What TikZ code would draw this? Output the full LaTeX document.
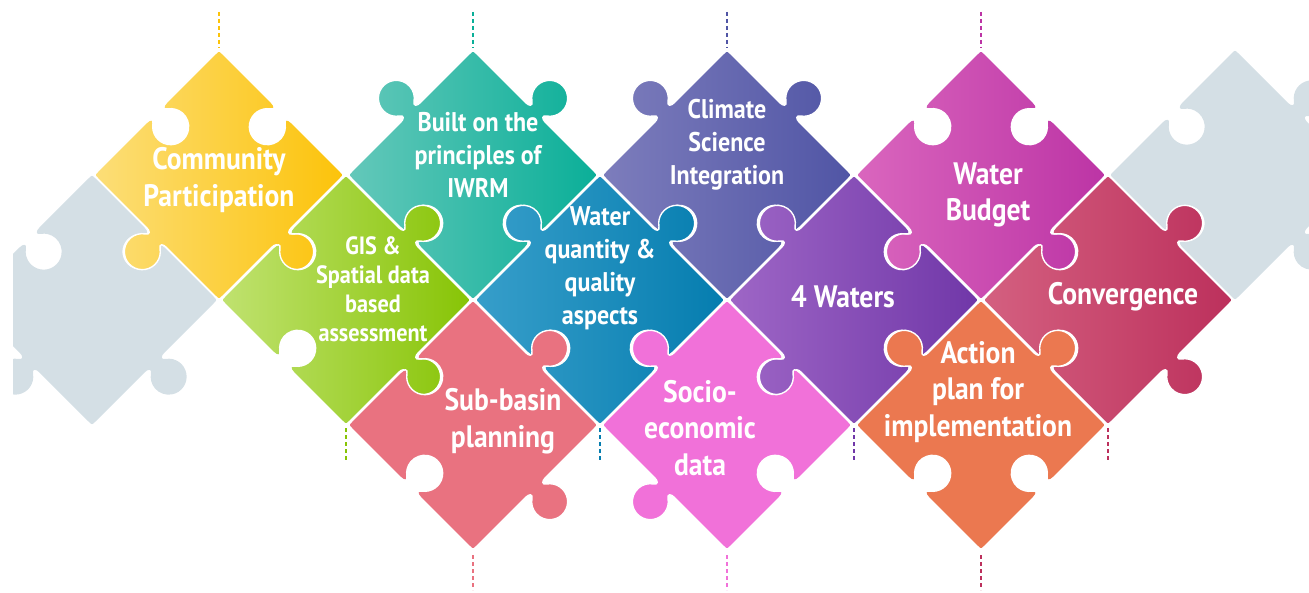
\documentclass[tikz,border=0pt]{standalone}
\usepackage{fontspec}
\setmainfont{PT Sans}[FakeStretch=0.89]
\usepackage{xcolor}
\usetikzlibrary{positioning}

\definecolor{cpL}{RGB}{252,222,120}
\definecolor{cpR}{RGB}{252,195,10}
\definecolor{biL}{RGB}{100,200,186}
\definecolor{biR}{RGB}{10,175,152}
\definecolor{clL}{RGB}{125,125,188}
\definecolor{clR}{RGB}{80,85,165}
\definecolor{wbL}{RGB}{218,102,190}
\definecolor{wbR}{RGB}{188,52,165}
\definecolor{gsL}{RGB}{192,226,112}
\definecolor{gsR}{RGB}{135,196,5}
\definecolor{wqL}{RGB}{55,158,202}
\definecolor{wqR}{RGB}{5,125,175}
\definecolor{fwL}{RGB}{158,102,198}
\definecolor{fwR}{RGB}{112,55,168}
\definecolor{cvL}{RGB}{212,96,128}
\definecolor{cvR}{RGB}{188,48,92}
\definecolor{sbC}{RGB}{233,114,128}
\definecolor{seC}{RGB}{241,113,217}
\definecolor{apC}{RGB}{235,120,80}
\definecolor{grC}{RGB}{212,223,229}

% half side of the square piece, corner cut
\def\pzA{88.39}
\def\pzC{5}

% one side of a piece, #1 rotation, #2 = 1 tab, -1 blank
\newcommand\pzside[2]{%
  {[rotate=#1] -- (-14,\pzA) .. controls (-9,\pzA) and (-6.2,{\pzA+2.4*(#2)}) .. (-10.3,{\pzA+5.3*(#2)})
   arc[start angle={180+55*(#2)}, end angle={180-235*(#2)}, radius=18]
   .. controls (6.2,{\pzA+2.4*(#2)}) and (9,\pzA) .. (14,\pzA)
   -- ({\pzA-\pzC},\pzA) .. controls (\pzA,\pzA) .. (\pzA,{\pzA-\pzC})}}

% piece: #1 centre, #2 NE, #3 SE, #4 SW, #5 NW, #6 colour options
\newcommand\pzpiece[6]{%
  \path[piece,#6,shift={(#1)}] {[rotate=-45] ({-\pzA+\pzC},\pzA)}
    \pzside{-45}{#2} \pzside{-135}{#3} \pzside{-225}{#4} \pzside{-315}{#5} -- cycle;}

\tikzset{
  piece/.style={draw=white, line width=1.4pt, line join=round},
  pztext/.style={text=white, align=center, font=\bfseries\fontsize{31}{36.5}\selectfont},
  pzmid/.style={pztext, font=\bfseries\fontsize{27}{33}\selectfont},
  pzsmall/.style={pztext, font=\bfseries\fontsize{25}{29}\selectfont},
  tag/.style={dash pattern=on 4pt off 3pt, line width=2pt},
}

\begin{document}
\begin{tikzpicture}[x=1pt,y=1pt]
\useasboundingbox (0,0) rectangle (1309,-593);

% centres of the pieces
\coordinate (gl) at (92,-300);
\coordinate (cp) at (219,-175);
\coordinate (bi) at (473,-175);
\coordinate (cl) at (727,-175);
\coordinate (wb) at (981,-175);
\coordinate (gr) at (1235,-175);
\coordinate (gs) at (346,-300);
\coordinate (wq) at (600,-300);
\coordinate (fw) at (854,-300);
\coordinate (cv) at (1108,-300);
\coordinate (sb) at (473,-425);
\coordinate (se) at (727,-425);
\coordinate (ap) at (981,-425);

% grey end pieces
\begin{scope}
  \clip (13,0) rectangle (1309,-593);
  \pzpiece{gl}{-1}{1}{1}{-1}{fill=grC,draw=none}
  \pzpiece{gr}{1}{1}{-1}{-1}{fill=grC,draw=none}
\end{scope}

\pzpiece{cp}{-1}{1}{1}{-1}{left color=cpL,right color=cpR}
\pzpiece{bi}{1}{-1}{-1}{1}{left color=biL,right color=biR}
\pzpiece{cl}{1}{-1}{-1}{1}{left color=clL,right color=clR}
\pzpiece{wb}{-1}{1}{1}{-1}{left color=wbL,right color=wbR}
\pzpiece{gs}{1}{1}{-1}{-1}{left color=gsL,right color=gsR}
\pzpiece{wq}{1}{-1}{-1}{1}{left color=wqL,right color=wqR}
\pzpiece{fw}{-1}{-1}{1}{1}{left color=fwL,right color=fwR}
\pzpiece{cv}{1}{1}{-1}{-1}{left color=cvL,right color=cvR}
\pzpiece{sb}{1}{1}{-1}{-1}{fill=sbC}
\pzpiece{se}{-1}{-1}{1}{1}{fill=seC}
\pzpiece{ap}{1}{-1}{-1}{1}{fill=apC}

% texts
\node[pztext] (cp-txt) at (219,-180) {Community\\Participation};
\node[pzmid] (bi-txt) at (478,-155) {Built on the\\principles of\\IWRM};
\node[pzmid] (cl-txt) at (727,-145) {Climate\\Science\\Integration};
\node[pztext] (wb-txt) at (988,-195) {Water\\Budget};
\node[pzsmall] (gs-txt) at (373,-289) {GIS \&\\Spatial data\\based\\assessment};
\node[pzmid] (wq-txt) at (600,-268) {Water\\quantity \&\\quality\\aspects};
\node[pztext] (fw-txt) at (843,-297) {4 Waters};
\node[pztext] (cv-txt) at (1123,-297) {Convergence};
\node[pztext] (sb-txt) at (503,-421) {Sub-basin\\planning};
\node[pztext] (se-txt) at (700,-428) {Socio-\\economic\\data};
\node[pztext] (ap-txt) at (978,-392) {Action\\plan for\\implementation};

% dotted tags at the tips
\coordinate (cp-a) at (219,-12);  \coordinate (cp-b) at (219,-48);
\coordinate (bi-a) at (473,-12);  \coordinate (bi-b) at (473,-48);
\coordinate (cl-a) at (727,-12);  \coordinate (cl-b) at (727,-48);
\coordinate (wb-a) at (981,-12);  \coordinate (wb-b) at (981,-48);
\coordinate (gs-a) at (346,-428); \coordinate (gs-b) at (346,-462);
\coordinate (wq-a) at (600,-428); \coordinate (wq-b) at (600,-462);
\coordinate (fw-a) at (854,-428); \coordinate (fw-b) at (854,-462);
\coordinate (cv-a) at (1108,-428);\coordinate (cv-b) at (1108,-462);
\coordinate (sb-a) at (473,-555); \coordinate (sb-b) at (473,-590);
\coordinate (se-a) at (727,-555); \coordinate (se-b) at (727,-590);
\coordinate (ap-a) at (981,-555); \coordinate (ap-b) at (981,-590);
\draw[tag,cpR] (cp-a) -- (cp-b);
\draw[tag,biR] (bi-a) -- (bi-b);
\draw[tag,clR] (cl-a) -- (cl-b);
\draw[tag,wbR] (wb-a) -- (wb-b);
\draw[tag,gsR] (gs-a) -- (gs-b);
\draw[tag,wqR] (wq-a) -- (wq-b);
\draw[tag,fwR] (fw-a) -- (fw-b);
\draw[tag,cvR] (cv-a) -- (cv-b);
\draw[tag,sbC] (sb-a) -- (sb-b);
\draw[tag,seC] (se-a) -- (se-b);
\draw[tag,cvR] (ap-a) -- (ap-b);
\end{tikzpicture}
\end{document}
